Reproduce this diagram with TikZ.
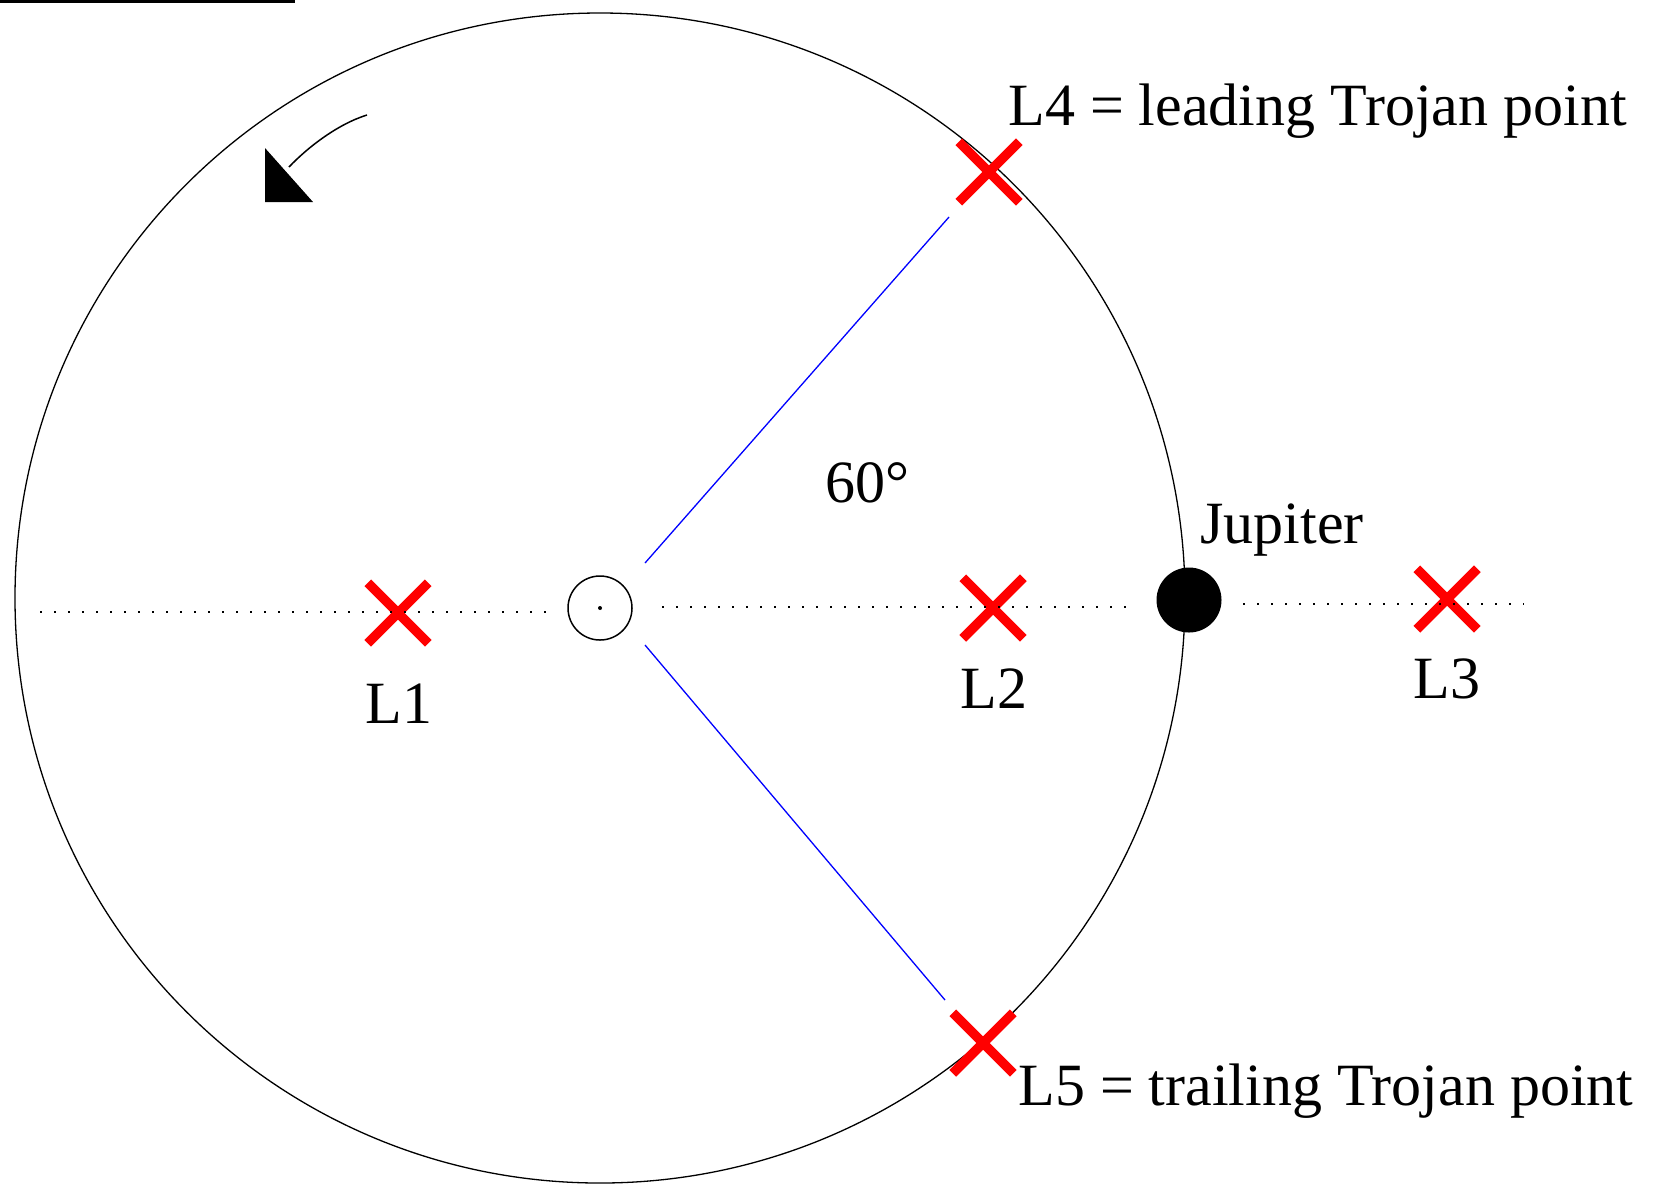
\documentclass[tikz,border=0pt]{standalone}
\usepackage{fontspec}
\setmainfont{Liberation Serif}
\usetikzlibrary{shapes.misc}
\begin{document}
\begin{tikzpicture}[x=0.5pt,y=-0.5pt,
  orbit/.style={draw=black, line width=0.65pt},
  lpoint/.style={cross out, draw=red, line width=4.75pt, minimum size=25.5pt, inner sep=0pt},
  axisline/.style={line width=1.2pt, dash pattern=on 1.2pt off 5.8pt},
  ray/.style={draw=blue, line width=0.65pt},
  lbl/.style={font=\fontsize{30}{36}\selectfont, inner sep=0pt}]
\useasboundingbox (0,0) rectangle (1657,1185);
% top-left rule
\draw[line width=1.25pt] (0,1.5) -- (295,1.5);
% orbit
\draw[orbit] (600,598) circle [radius=292.5pt];
% sun and Jupiter
\node[circle, draw, line width=0.75pt, minimum size=32pt, inner sep=0pt] (sun) at (600,608) {};
\fill (sun.center) circle [radius=2];
\node[circle, fill=black, minimum size=32.5pt, inner sep=0pt] (jup) at (1189,600) {};
% Lagrange points
\node[lpoint] (L1) at (398,613) {};
\node[lpoint] (L2) at (993,608) {};
\node[lpoint] (L3) at (1447,599) {};
\node[lpoint] (L4) at (989,172) {};
\node[lpoint] (L5) at (983,1043) {};
% dotted axis
\coordinate (axL) at (40,612);
\coordinate (axSl) at (553,612);
\coordinate (axSr) at (662,607);
\coordinate (axJl) at (1133,607);
\coordinate (axJr) at (1243,604);
\coordinate (axR) at (1524,604);
\draw[axisline] (axL) -- (axSl);
\draw[axisline] (axSr) -- (axJl);
\draw[axisline] (axJr) -- (axR);
% blue rays
\coordinate (r4a) at (645,563);
\coordinate (r4b) at (949,217);
\coordinate (r5a) at (645,645);
\coordinate (r5b) at (945,1000);
\draw[ray] (r4a) -- (r4b);
\draw[ray] (r5a) -- (r5b);
% rotation arrow
\coordinate (arS) at (367,115);
\coordinate (arE) at (289,167);
\draw[line width=0.75pt] (arS) .. controls (338,124) and (308,147) .. (arE);
\fill (265,148) -- (265,202) -- (313,202) -- cycle;
% labels
\node[lbl, anchor=base] (tL1) at (399,723) {L1};
\node[lbl, anchor=base] (tL2) at (994,708) {L2};
\node[lbl, anchor=base] (tL3) at (1447,698) {L3};
\node[lbl, anchor=base west] (tJ) at (1200,543) {Jupiter};
\node[lbl, anchor=base west] (t60) at (825,502) {60°};
\node[lbl, anchor=base west] (tL4) at (1008,125) {L4 = leading Trojan point};
\node[lbl, anchor=base west] (tL5) at (1018,1105) {L5 = trailing Trojan point};
\end{tikzpicture}
\end{document}
